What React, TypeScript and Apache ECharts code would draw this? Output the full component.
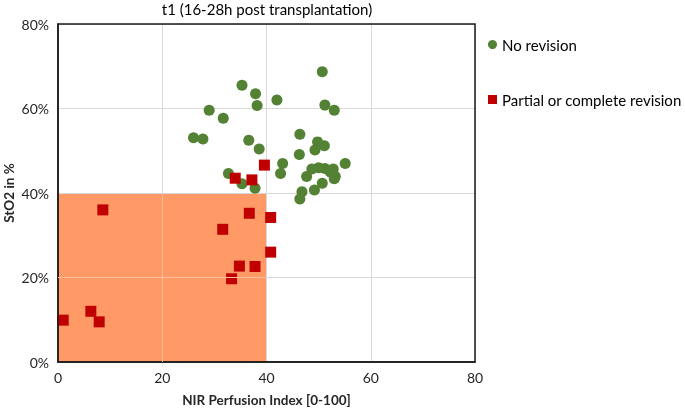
import React, { useEffect, useRef } from "react";
import * as echarts from "echarts";

const TITLE = "t1 (16-28h post transplantation)";
const X_NAME = "NIR Perfusion Index [0-100]";
const Y_NAME = "StO2 in %";
const SERIES_NAMES = ["No revision", "Partial or complete revision"];

// [NIR perfusion index, StO2 %]
const noRevision: [number, number][] = [
  [50.7, 68.7], [35.3, 65.5], [37.9, 63.5], [38.2, 60.7], [42.0, 62.0],
  [51.2, 60.8], [53.0, 59.6], [29.0, 59.6], [31.7, 57.7], [26.0, 53.1],
  [27.8, 52.8], [36.6, 52.5], [38.6, 50.4], [46.4, 53.9], [49.8, 52.1],
  [51.1, 51.2], [49.3, 50.2], [46.3, 49.1], [32.7, 44.6], [35.3, 42.2],
  [37.8, 41.1], [43.1, 47.0], [42.7, 44.6], [55.1, 47.0], [48.7, 45.7],
  [50.0, 46.0], [51.2, 45.8], [52.8, 45.7], [53.2, 43.9], [47.7, 43.9],
  [50.7, 42.3], [49.2, 40.7], [46.8, 40.3], [46.4, 38.6], [52.2, 45.0],
  [53.0, 43.4],
];

const revision: [number, number][] = [
  [39.6, 46.6], [34.0, 43.5], [37.2, 43.1], [8.6, 36.0], [36.7, 35.2],
  [40.8, 34.2], [31.6, 31.4], [40.8, 26.0], [34.8, 22.7], [37.8, 22.6],
  [33.3, 19.7], [6.3, 12.0], [1.0, 9.9], [7.9, 9.5],
];

const X_MIN = 0, X_MAX = 80, X_STEP = 20;
const Y_MIN = 0, Y_MAX = 80, Y_STEP = 20;
const THRESH_X = 40;
const THRESH_Y = 40;

const FONT = "Lato, 'Open Sans', sans-serif";

export default function App() {
  const ref = useRef<HTMLDivElement>(null);
  useEffect(() => {
    if (!ref.current) return;
    const chart = echarts.init(ref.current, undefined, { renderer: "svg" });

    const innerGridX: number[] = [];
    for (let v = X_MIN + X_STEP; v < THRESH_X; v += X_STEP) innerGridX.push(v);
    const innerGridY: number[] = [];
    for (let v = Y_MIN + Y_STEP; v < THRESH_Y; v += Y_STEP) innerGridY.push(v);

    const gridOverlay = [
      ...innerGridX.map((v) => [{ coord: [v, Y_MIN] }, { coord: [v, THRESH_Y] }]),
      ...innerGridY.map((v) => [{ coord: [X_MIN, v] }, { coord: [THRESH_X, v] }]),
    ];

    chart.setOption({
      animation: false,
      textStyle: { fontFamily: FONT },
      title: {
        text: TITLE,
        left: 267,
        textAlign: "center",
        top: 1,
        padding: 0,
        textStyle: { fontSize: 15, fontWeight: "normal", color: "#000", fontFamily: FONT },
      },
      grid: {
        left: 58, right: 210, top: 24, bottom: 47,
        outerBoundsMode: "none",
        containLabel: false,
        show: true, borderColor: "#1a1a1a", borderWidth: 1.5,
        backgroundColor: "transparent", z: 5,
      },
      legend: {
        orient: "vertical",
        left: 483,
        top: 32,
        itemGap: 40,
        itemWidth: 9,
        itemHeight: 9,
        textStyle: { fontSize: 15, color: "#000", fontFamily: FONT },
        data: [
          { name: SERIES_NAMES[0], icon: "circle" },
          { name: SERIES_NAMES[1], icon: "rect" },
        ],
      },
      xAxis: {
        type: "value",
        min: X_MIN, max: X_MAX, interval: X_STEP,
        z: 2,
        name: X_NAME,
        nameLocation: "middle",
        nameGap: 31,
        nameMoveOverlap: false,
        nameTextStyle: { fontSize: 13.5, fontWeight: "bold", color: "#262626", fontFamily: FONT },
        axisLine: { show: true, lineStyle: { color: "#1a1a1a", width: 1.5 } },
        axisTick: { show: false },
        axisLabel: { fontSize: 14, color: "#262626", margin: 8, fontFamily: FONT },
        splitLine: { show: true, lineStyle: { color: "#d9d9d9", width: 1 } },
      },
      yAxis: {
        type: "value",
        min: Y_MIN, max: Y_MAX, interval: Y_STEP,
        z: 2,
        name: Y_NAME,
        nameLocation: "middle",
        nameRotate: 90,
        nameGap: 42,
        nameMoveOverlap: false,
        nameTextStyle: { fontSize: 13.5, fontWeight: "bold", color: "#262626", fontFamily: FONT },
        axisLine: { show: true, lineStyle: { color: "#1a1a1a", width: 1.5 } },
        axisTick: { show: false },
        axisLabel: { fontSize: 14, color: "#262626", margin: 9, formatter: "{value}%", fontFamily: FONT },
        splitLine: { show: true, lineStyle: { color: "#d9d9d9", width: 1 } },
      },
      series: [
        {
          type: "scatter",
          name: "__zone",
          data: [],
          z: 1,
          silent: true,
          markArea: {
            silent: true,
            itemStyle: { color: "#FF9966", opacity: 1 },
            data: [[{ coord: [X_MIN, Y_MIN] }, { coord: [THRESH_X, THRESH_Y] }]],
          },
          markLine: {
            silent: true,
            symbol: "none",
            label: { show: false },
            lineStyle: { color: "#f7bfa0", width: 1, type: "solid" },
            data: gridOverlay,
          },
        },
        {
          type: "scatter",
          name: SERIES_NAMES[0],
          data: noRevision,
          symbol: "circle",
          symbolSize: 11,
          z: 3,
          itemStyle: { color: "#548235", opacity: 1 },
        },
        {
          type: "scatter",
          name: SERIES_NAMES[1],
          data: revision,
          symbol: "rect",
          symbolSize: 11,
          z: 4,
          itemStyle: { color: "#C00000", opacity: 1 },
        },
      ],
    });
    return () => chart.dispose();
  }, []);
  return <div ref={ref} style={{ width: 685, height: 409, position: "fixed", left: 0, top: 0 }} />;
}
